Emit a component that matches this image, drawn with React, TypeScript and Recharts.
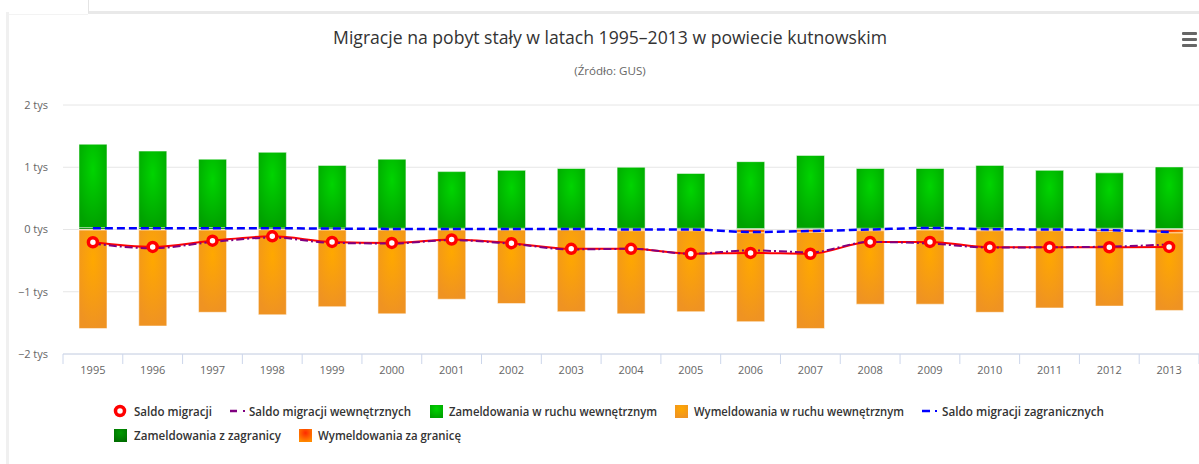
import React from 'react';
import { ComposedChart, Bar, Line, XAxis, YAxis, CartesianGrid } from 'recharts';

const years = ['1995','1996','1997','1998','1999','2000','2001','2002','2003','2004','2005','2006','2007','2008','2009','2010','2011','2012','2013'];
const zamWewn = [1340,1230,1100,1215,1005,1110,910,930,960,980,880,1075,1170,960,945,1005,930,890,990];
const zamZagr = [30,30,30,25,25,20,20,20,20,20,20,15,20,20,35,25,20,20,15];
const wymWewn = [-1580,-1540,-1320,-1365,-1230,-1345,-1110,-1180,-1310,-1335,-1300,-1425,-1545,-1180,-1190,-1310,-1240,-1200,-1245];
const wymZagr = [-10,-10,-10,-5,-10,-10,-10,-10,-10,-20,-20,-55,-45,-20,-10,-20,-20,-30,-55];
const saldo = [-205,-280,-180,-110,-200,-215,-160,-220,-310,-310,-390,-376,-390,-200,-200,-285,-285,-285,-280];
const saldoWewn = [-225,-300,-200,-130,-215,-225,-170,-230,-320,-310,-390,-336,-365,-200,-225,-290,-285,-275,-240];
const saldoZagr = [20,20,20,20,15,10,10,10,10,0,0,-40,-25,0,25,5,0,-10,-40];
const yTicks = [-2000,-1000,0,1000,2000];

const data = years.map((y, i) => ({
  year: y,
  zamZagr: zamZagr[i],
  zamWewn: zamWewn[i],
  wymZagr: wymZagr[i],
  wymWewn: wymWewn[i],
  saldo: saldo[i],
  saldoWewn: saldoWewn[i],
  saldoZagr: saldoZagr[i],
}));

const W = 1199;
const H = 464;
const PLOT_LEFT = 63;
const BAND = (W - PLOT_LEFT) / years.length;
const FONT = '"Open Sans", "DejaVu Sans", sans-serif';

const XTick = (props: any) => {
  const { x, y, payload, index } = props;
  return (
    <g>
      <line x1={x - BAND / 2} x2={x - BAND / 2} y1={y} y2={y + 10} stroke="#ccd6eb" />
      {index === years.length - 1 ? (
        <line x1={x + BAND / 2} x2={x + BAND / 2} y1={y} y2={y + 10} stroke="#ccd6eb" />
      ) : null}
      <text x={x} y={y + 20} textAnchor="middle" fill="#666" fontSize={11} fontFamily={FONT}>
        {payload.value}
      </text>
    </g>
  );
};

const fmtY = (v: number) => `${v < 0 ? '−' : ''}${Math.abs(v) / 1000} tys`;

const LText = ({ x, y, w, children }: { x: number; y: number; w: number; children: string }) => (
  <text
    x={x}
    y={y}
    textLength={w}
    lengthAdjust="spacingAndGlyphs"
    fontFamily={FONT}
    fontWeight={600}
    fontSize={13}
    fill="#333"
    dominantBaseline="central"
  >
    {children}
  </text>
);

const Grad = ({ id, c0, c1 }: { id: string; c0: string; c1: string }) => (
  <radialGradient id={id} cx="0.5" cy="0.3" r="0.7">
    <stop offset="0%" stopColor={c0} />
    <stop offset="100%" stopColor={c1} />
  </radialGradient>
);

export default function App() {
  return (
    <div style={{ position: 'absolute', left: 0, top: 0, width: W, height: H, background: '#fff', overflow: 'hidden' }}>
      {/* frame */}
      <div style={{ position: 'absolute', left: 6, top: 12, width: 3, height: H - 12, background: '#f0f0f0' }} />
      <div style={{ position: 'absolute', left: 88, top: 11, width: W - 88, height: 3, background: '#e9e9e9' }} />
      <div style={{ position: 'absolute', left: 88, top: 0, width: 1, height: 13, background: '#e4e4e4' }} />
      <div style={{ position: 'absolute', left: 9, top: 14, width: 79, height: 1, background: '#f3f3f3' }} />

      <ComposedChart
        width={W}
        height={H}
        data={data}
        stackOffset="sign"
        margin={{ top: 105, right: 0, bottom: 80, left: 0 }}
        style={{ position: 'absolute', left: 0, top: 0 }}
      >
        <defs>
          <Grad id="gGreen" c0="#00d400" c1="#00a200" />
          <Grad id="gDark" c0="#009a00" c1="#006e00" />
          <Grad id="gOrange" c0="#ffa800" c1="#ef9322" />
          <Grad id="gRed" c0="#ff2a00" c1="#ff8a00" />
        </defs>
        <CartesianGrid vertical={false} stroke="#e6e6e6" />
        <XAxis
          dataKey="year"
          height={30}
          axisLine={{ stroke: '#ccd6eb' }}
          tickLine={false}
          tickSize={0}
          tickMargin={0}
          interval={0}
          tick={<XTick />}
        />
        <YAxis
          width={63}
          domain={[-2000, 2000]}
          ticks={yTicks}
          tickFormatter={fmtY}
          axisLine={false}
          tickLine={false}
          tickSize={0}
          tickMargin={15}
          tick={{ fill: '#666', fontSize: 11, fontFamily: FONT }}
        />
        <Bar dataKey="zamZagr" stackId="s" barSize={28} fill="url(#gDark)" stroke="#ffffff" strokeOpacity={0.5} isAnimationActive={false} />
        <Bar dataKey="zamWewn" stackId="s" barSize={28} fill="url(#gGreen)" stroke="#ffffff" strokeOpacity={0.5} isAnimationActive={false} />
        <Bar dataKey="wymZagr" stackId="s" barSize={28} fill="url(#gRed)" stroke="#ffffff" strokeOpacity={0.5} isAnimationActive={false} />
        <Bar dataKey="wymWewn" stackId="s" barSize={28} fill="url(#gOrange)" stroke="#ffffff" strokeOpacity={0.5} isAnimationActive={false} />
        <Line
          dataKey="saldo"
          type="monotone"
          stroke="#ff0000"
          strokeWidth={2}
          dot={{ r: 4.5, fill: '#ffffff', stroke: '#ff0000', strokeWidth: 3.5 }}
          isAnimationActive={false}
        />
        <Line
          dataKey="saldoWewn"
          type="monotone"
          stroke="#800080"
          strokeWidth={2}
          strokeDasharray="8 3 2 3"
          dot={false}
          isAnimationActive={false}
        />
        <Line
          dataKey="saldoZagr"
          type="monotone"
          stroke="#0000ff"
          strokeWidth={2.5}
          strokeDasharray="8 4"
          dot={false}
          isAnimationActive={false}
        />
      </ComposedChart>

      {/* title */}
      <div style={{ position: 'absolute', left: 0, width: 1220, top: 25, textAlign: 'center', fontFamily: FONT, fontSize: 17.6, color: '#333', whiteSpace: 'nowrap', lineHeight: '24px' }}>
        Migracje na pobyt stały w latach 1995–2013 w powiecie kutnowskim
      </div>
      <div style={{ position: 'absolute', left: 0, width: 1220, top: 63, textAlign: 'center', fontFamily: FONT, fontSize: 11.6, color: '#666', whiteSpace: 'nowrap', lineHeight: '16px' }}>
        (Źródło: GUS)
      </div>

      {/* menu icon */}
      <div style={{ position: 'absolute', left: 1182, top: 32, width: 15, height: 3, background: '#666', borderRadius: 1 }} />
      <div style={{ position: 'absolute', left: 1182, top: 38, width: 15, height: 3, background: '#666', borderRadius: 1 }} />
      <div style={{ position: 'absolute', left: 1182, top: 44, width: 15, height: 3, background: '#666', borderRadius: 1 }} />

      {/* legend */}
      <svg width={W} height={64} style={{ position: 'absolute', left: 0, top: 400 }}>
        <defs>
          <Grad id="lGreen" c0="#00d400" c1="#00a200" />
          <Grad id="lDark" c0="#009a00" c1="#006e00" />
          <Grad id="lOrange" c0="#ffa800" c1="#ef9322" />
          <Grad id="lRed" c0="#ff2a00" c1="#ff8a00" />
        </defs>
        <circle cx={120} cy={11} r={4.5} fill="#fff" stroke="#ff0000" strokeWidth={3.5} />
        <LText x={134} y={11} w={78}>Saldo migracji</LText>

        <line x1={230} x2={237} y1={11} y2={11} stroke="#800080" strokeWidth={2.5} />
        <line x1={243} x2={245} y1={11} y2={11} stroke="#800080" strokeWidth={2} />
        <LText x={249} y={11} w={162}>Saldo migracji wewnętrznych</LText>

        <rect x={430} y={5} width={13} height={13} fill="url(#lGreen)" />
        <LText x={449} y={11} w={208}>Zameldowania w ruchu wewnętrznym</LText>

        <rect x={675} y={5} width={13} height={13} fill="url(#lOrange)" />
        <LText x={694} y={11} w={210}>Wymeldowania w ruchu wewnętrznym</LText>

        <line x1={922} x2={930} y1={11} y2={11} stroke="#0000ff" strokeWidth={2.5} />
        <line x1={935} x2={937} y1={11} y2={11} stroke="#0000ff" strokeWidth={2} />
        <LText x={942} y={11} w={162}>Saldo migracji zagranicznych</LText>

        <rect x={114} y={29} width={13} height={13} fill="url(#lDark)" />
        <LText x={134} y={35} w={147}>Zameldowania z zagranicy</LText>

        <rect x={299} y={29} width={13} height={13} fill="url(#lRed)" />
        <LText x={318} y={35} w={143}>Wymeldowania za granicę</LText>
      </svg>
    </div>
  );
}
